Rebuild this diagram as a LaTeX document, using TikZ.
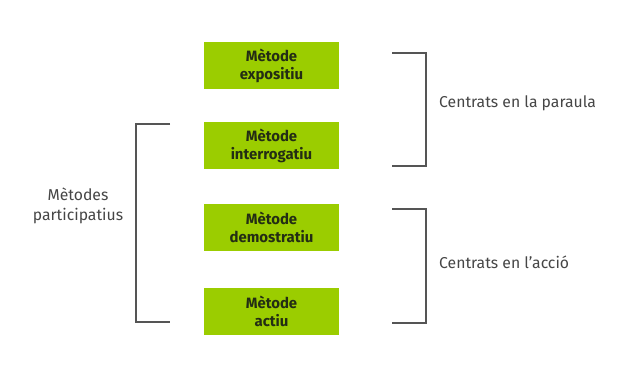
\documentclass[tikz,border=0pt]{standalone}
\usepackage{fontspec}
\setmainfont{Fira Sans}
\definecolor{boxgreen}{RGB}{155,205,0}
\definecolor{linegray}{RGB}{85,85,85}
\definecolor{txtgray}{RGB}{70,70,70}
\definecolor{boxtxt}{RGB}{35,45,20}
\begin{document}
\begin{tikzpicture}[x=1bp,y=-1bp,
  metbox/.style={fill=boxgreen,draw=none,minimum width=135bp,minimum height=47bp,inner sep=0pt,align=center,font=\fontsize{15}{18}\selectfont\bfseries,text=boxtxt},
  lbl/.style={align=center,font=\fontsize{15.8}{20}\selectfont,text=txtgray},
  brk/.style={draw=linegray,line width=1.2bp}]
\useasboundingbox[fill=white] (0,0) rectangle (634,378);
\node[metbox] (b1) at (271.5,65.5) {Mètode\\expositiu};
\node[metbox] (b2) at (271.5,145.5) {Mètode\\interrogatiu};
\node[metbox] (b3) at (271.5,227) {Mètode\\demostratiu};
\node[metbox] (b4) at (271.5,311.5) {Mètode\\actiu};
\coordinate (r1a) at (392,53);
\coordinate (r1b) at (426,53);
\coordinate (r1c) at (426,166);
\coordinate (r1d) at (392,166);
\coordinate (r2a) at (392,209);
\coordinate (r2b) at (426,209);
\coordinate (r2c) at (426,323);
\coordinate (r2d) at (392,323);
\coordinate (l1a) at (170,124);
\coordinate (l1b) at (136,124);
\coordinate (l1c) at (136,322);
\coordinate (l1d) at (170,322);
\draw[brk] (r1a) -- (r1b) -- (r1c) -- (r1d);
\draw[brk] (r2a) -- (r2b) -- (r2c) -- (r2d);
\draw[brk] (l1a) -- (l1b) -- (l1c) -- (l1d);
\node[lbl,anchor=west,inner sep=0pt] (t1) at (439,103) {Centrats en la paraula};
\node[lbl,anchor=west,inner sep=0pt] (t2) at (439,262) {Centrats en l’acció};
\node[lbl] (t3) at (78,206) {Mètodes\\participatius};
\end{tikzpicture}
\end{document}
